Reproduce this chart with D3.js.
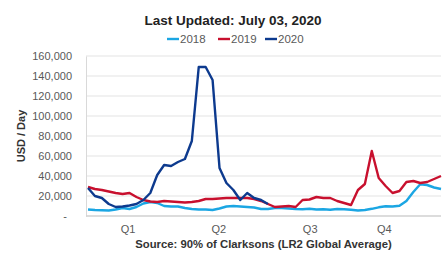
<!DOCTYPE html>
<html>
<head>
<meta charset="utf-8">
<script src="https://cdn.jsdelivr.net/npm/d3@7"></script>
<style>
  body { margin: 0; background: #fff; }
  svg { display: block; font-family: "Liberation Sans", Arial, sans-serif; }
</style>
</head>
<body>
<svg id="chart" width="446" height="255"></svg>
<script>
// weekly rates, USD / day
const series2018 = [6500, 6000, 5800, 5500, 6500, 8000, 7000, 9000, 12500, 14000,
  13000, 10000, 9500, 9500, 8000, 7000, 6500, 6500, 6000, 7500,
  9500, 10000, 9500, 9000, 8500, 7000, 7000, 8000, 8000, 7500,
  7000, 6700, 7300, 6500, 6800, 6200, 7000, 6800, 6200, 5500,
  6000, 7200, 8700, 9800, 9500, 10200, 15000, 24000, 31700, 31000,
  28500, 27000];
const series2019 = [29000, 27000, 26000, 24500, 23000, 22000, 23000, 19000, 16000, 14500,
  14000, 15000, 14500, 14000, 13500, 14000, 15000, 17000, 17000, 17500,
  18000, 18000, 18000, 18000, 17000, 15000, 12000, 9000, 9500, 10000,
  9000, 16000, 16500, 19000, 18000, 18000, 15000, 13000, 11000, 26000,
  32000, 65000, 38000, 30000, 23000, 25000, 34000, 35000, 33000, 34000,
  37000, 40000];
const series2020 = [28000, 20000, 18000, 12000, 9000, 9500, 10500, 12000, 16000, 23000,
  41000, 51000, 50000, 54000, 57000, 75000, 149000, 149000, 136000, 48000,
  33000, 26000, 16000, 23000, 18000, 16000, 12000];

const seriesNames = ["2018", "2019", "2020"];
const seriesColors = ["#1ba6e3", "#c8102e", "#0d3a8e"];
const yTicks = [0, 20000, 40000, 60000, 80000, 100000, 120000, 140000, 160000];
const quarterLabels = ["Q1", "Q2", "Q3", "Q4"];
const quarterWeeks = [5.8, 18.9, 32.1, 42.8];

const titleText = "Last Updated: July 03, 2020";
const sourceText = "Source: 90% of Clarksons (LR2 Global Average)";
const yTitle = "USD / Day";

const margin = {left: 86, right: 5, top: 56, bottom: 39};
const width = 446, height = 255;

const svg = d3.select("#chart");

const x = d3.scaleLinear()
  .domain([0, 51])
  .range([margin.left + 2, width - margin.right]);

const y = d3.scaleLinear()
  .domain([0, 160000])
  .range([height - margin.bottom, margin.top]);

// gridlines
svg.append("g")
  .selectAll("line")
  .data(yTicks.filter(d => d > 0))
  .enter()
  .append("line")
  .attr("x1", margin.left)
  .attr("x2", width - margin.right)
  .attr("y1", d => y(d))
  .attr("y2", d => y(d))
  .attr("stroke", "#e3e3e3")
  .attr("stroke-width", 1);

// left axis
const yAxis = svg.append("g")
  .attr("transform", `translate(${margin.left},0)`)
  .call(d3.axisLeft(y)
    .tickValues(yTicks)
    .tickSize(0)
    .tickPadding(14)
    .tickFormat(d => d === 0 ? "-" : d3.format(",")(d)));

yAxis.select(".domain").attr("stroke", "#d9d9d9");
yAxis.selectAll("text")
  .attr("font-size", "11px")
  .attr("fill", "#595959")
  .attr("font-family", "Liberation Sans, Arial, sans-serif")
  .attr("dx", d => d === 0 ? "-5" : 0);

// bottom axis line
svg.append("line")
  .attr("x1", margin.left)
  .attr("x2", width - margin.right)
  .attr("y1", y(0))
  .attr("y2", y(0))
  .attr("stroke", "#d0d0d0")
  .attr("stroke-width", 1.5);

// quarter labels
svg.append("g")
  .selectAll("text")
  .data(quarterLabels)
  .enter()
  .append("text")
  .attr("x", (d, i) => x(quarterWeeks[i]))
  .attr("y", y(0) + 17)
  .attr("text-anchor", "middle")
  .attr("font-size", "11px")
  .attr("fill", "#595959")
  .text(d => d);

// lines
const line = d3.line()
  .x((d, i) => x(i))
  .y(d => y(d));

const allSeries = [series2018, series2019, series2020];

svg.append("g")
  .selectAll("path")
  .data(allSeries)
  .enter()
  .append("path")
  .attr("d", d => line(d))
  .attr("fill", "none")
  .attr("stroke", (d, i) => seriesColors[i])
  .attr("stroke-width", 2.4)
  .attr("stroke-linejoin", "round");

// title
svg.append("text")
  .attr("x", 233)
  .attr("y", 25)
  .attr("text-anchor", "middle")
  .attr("font-size", "13.5px")
  .attr("font-weight", "bold")
  .attr("fill", "#222")
  .text(titleText);

// legend
const legendX = [167, 218, 265];
const legend = svg.append("g")
  .selectAll("g")
  .data(seriesNames)
  .enter()
  .append("g")
  .attr("transform", (d, i) => `translate(${legendX[i]},39)`);

legend.append("line")
  .attr("x1", 0)
  .attr("x2", 12)
  .attr("stroke", (d, i) => seriesColors[i])
  .attr("stroke-width", 2.4);

legend.append("text")
  .attr("x", 13)
  .attr("y", 4)
  .attr("font-size", "11.5px")
  .attr("fill", "#595959")
  .text(d => d);

// y title
svg.append("text")
  .attr("transform", `translate(25,${y(80000)}) rotate(-90)`)
  .attr("text-anchor", "middle")
  .attr("font-size", "11px")
  .attr("font-weight", "bold")
  .attr("fill", "#333")
  .text(yTitle);

// source
svg.append("text")
  .attr("x", (margin.left + width - margin.right) / 2)
  .attr("y", 248)
  .attr("text-anchor", "middle")
  .attr("font-size", "11.3px")
  .attr("font-weight", "bold")
  .attr("fill", "#333")
  .text(sourceText);
</script>
</body>
</html>
